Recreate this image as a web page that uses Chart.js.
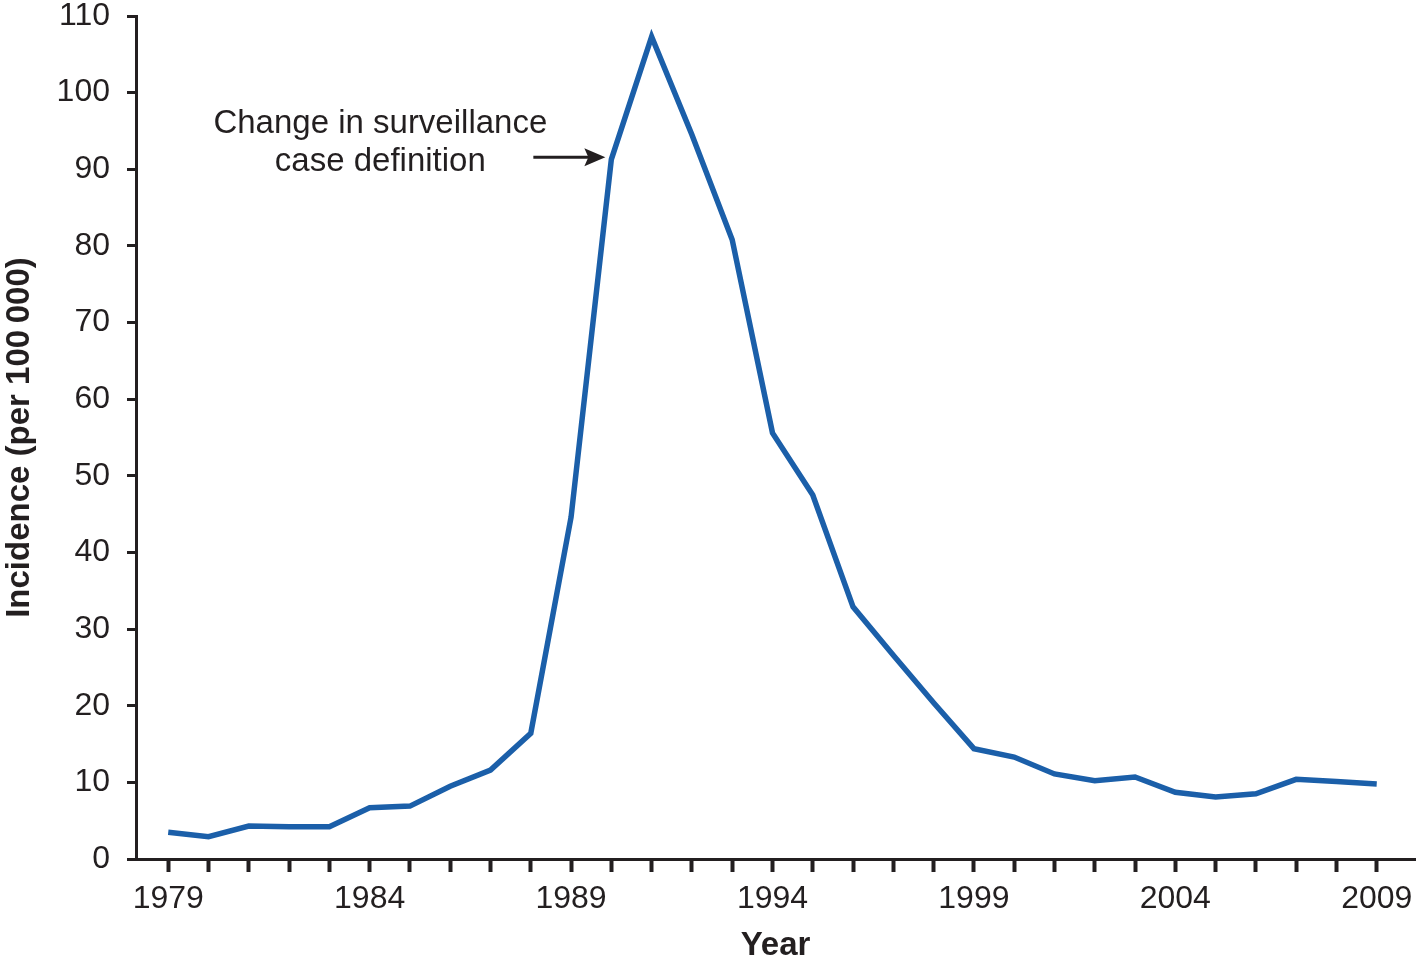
<!DOCTYPE html>
<html>
<head>
<meta charset="utf-8">
<style>
  html, body { margin: 0; padding: 0; background: #fff; }
  #wrap { width: 1417px; height: 962px; }
</style>
<script src="https://cdn.jsdelivr.net/npm/chart.js@4/dist/chart.umd.min.js"></script>
</head>
<body>
<div id="wrap"><canvas id="incidenceChart"></canvas></div>
<script>
// values
const years = [
  1979, 1980, 1981, 1982, 1983, 1984, 1985, 1986, 1987, 1988,
  1989, 1990, 1991, 1992, 1993, 1994, 1995, 1996, 1997, 1998,
  1999, 2000, 2001, 2002, 2003, 2004, 2005, 2006, 2007, 2008, 2009,
];
const incidence = [
  3.5, 2.9, 4.3, 4.2, 4.2, 6.7, 6.9, 9.5, 11.6, 16.4,
  44.6, 91.3, 107.3, 94.5, 80.8, 55.6, 47.5, 32.9, 26.6, 20.4,
  14.4, 13.3, 11.1, 10.2, 10.7, 8.7, 8.1, 8.5, 10.4, 10.1, 9.8,
];
const labelYears = [1979, 1984, 1989, 1994, 1999, 2004, 2009];
const noteLines = ["Change in surveillance", "case definition"];
const noteYear = 1990;

const FONT = "'Liberation Sans', Arial, Helvetica, sans-serif";
const INK = "#231f20";

// text + arrow pointing at the 1990 point
const notePlugin = {
  id: "note",
  afterDatasetsDraw(chart) {
    const ctx = chart.ctx;
    const xs = chart.scales.x;
    const ys = chart.scales.y;
    const idx = years.indexOf(noteYear);
    const tipX = xs.getPixelForValue(noteYear) - 6;
    const tipY = ys.getPixelForValue(incidence[idx]) - 2;

    ctx.save();
    ctx.fillStyle = INK;
    ctx.strokeStyle = INK;
    ctx.font = "33px " + FONT;
    ctx.textAlign = "center";
    ctx.textBaseline = "middle";
    const cx = tipX - 225;
    ctx.fillText(noteLines[0], cx, tipY - 33);
    ctx.fillText(noteLines[1], cx, tipY + 5);

    // arrow
    ctx.lineWidth = 3;
    ctx.beginPath();
    ctx.moveTo(tipX - 72, tipY);
    ctx.lineTo(tipX - 14, tipY);
    ctx.stroke();
    ctx.beginPath();
    ctx.moveTo(tipX, tipY);
    ctx.lineTo(tipX - 21, tipY - 9);
    ctx.lineTo(tipX - 17, tipY);
    ctx.lineTo(tipX - 21, tipY + 9);
    ctx.closePath();
    ctx.fill();
    ctx.restore();
  },
};

window.addEventListener("load", () => {
  const canvas = document.getElementById("incidenceChart");
  const points = years.map((y, i) => ({ x: y, y: incidence[i] }));

  new Chart(canvas.getContext("2d"), {
    type: "line",
    data: {
      datasets: [
        {
          data: points,
          borderColor: "#1b5fa9",
          borderWidth: 5.5,
          pointRadius: 0,
          tension: 0,
          fill: false,
          clip: false,
        },
      ],
    },
    options: {
      responsive: true,
      maintainAspectRatio: false,
      devicePixelRatio: 1,
      animation: false,
      layout: { padding: { top: 16, right: 2, left: 0, bottom: 0 } },
      plugins: {
        legend: { display: false },
        tooltip: { enabled: false },
      },
      scales: {
        x: {
          type: "linear",
          min: 1978.2,
          max: 2009.95,
          afterBuildTicks(scale) {
            scale.ticks = years.map((v) => ({ value: v }));
          },
          afterFit(scale) {
            scale.height = 103;
            // axis runs to the right edge
            scale.paddingLeft = 0;
            scale.paddingRight = 0;
          },
          border: { display: true, color: INK, width: 3 },
          grid: {
            display: true,
            drawOnChartArea: false,
            drawTicks: true,
            tickLength: 13,
            tickWidth: 4,
            tickColor: INK,
          },
          ticks: {
            autoSkip: false,
            maxRotation: 0,
            padding: 8,
            color: INK,
            font: { family: FONT, size: 32 },
            callback: (v) => (labelYears.includes(v) ? String(v) : ""),
          },
          title: {
            display: true,
            text: "Year",
            color: INK,
            padding: { top: 0, bottom: 0 },
            font: { family: FONT, size: 33, weight: "bold", lineHeight: 1 },
          },
        },
        y: {
          min: 0,
          max: 110,
          afterFit(scale) {
            scale.width = 136;
            // keep the plot top at the 110 tick
            scale.paddingTop = 0;
            scale.paddingBottom = 0;
          },
          border: { display: true, color: INK, width: 3 },
          grid: {
            display: true,
            drawOnChartArea: false,
            drawTicks: true,
            tickLength: 9,
            tickWidth: 3,
            tickColor: INK,
          },
          ticks: {
            stepSize: 10,
            padding: 17,
            color: INK,
            font: { family: FONT, size: 32 },
          },
          title: {
            display: true,
            text: "Incidence (per 100\u2009000)",
            color: INK,
            padding: { top: 0, bottom: 0 },
            font: { family: FONT, size: 33, weight: "bold" },
          },
        },
      },
    },
    plugins: [notePlugin],
  });
});
</script>
</body>
</html>
